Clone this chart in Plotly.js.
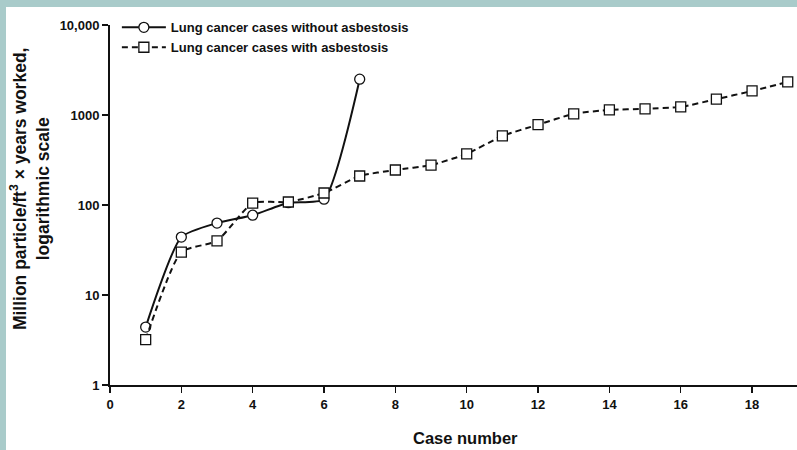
<!DOCTYPE html>
<html>
<head>
<meta charset="utf-8">
<script src="https://cdn.plot.ly/plotly-3.0.1.min.js"></script>
<style>
  html, body { margin: 0; padding: 0; width: 797px; height: 450px; overflow: hidden; background: #a9cbca; }
  #chart { position: absolute; left: 6px; top: 7px; width: 791px; height: 443px; background: #ffffff; }
</style>
</head>
<body>
<div id="chart"></div>
<script>
const caseWithout = [1, 2, 3, 4, 5, 6, 7];
const exposureWithout = [4.4, 44, 63, 77, 106, 116, 2500];
const caseWith = [1, 2, 3, 4, 5, 6, 7, 8, 9, 10, 11, 12, 13, 14, 15, 16, 17, 18, 19];
const exposureWith = [3.2, 30, 40, 105, 108, 136, 210, 245, 278, 370, 585, 780, 1030, 1140, 1170, 1230, 1500, 1850, 2330];
const yTickVals = [1, 10, 100, 1000, 10000];
const yTickText = ["1", "10", "100", "1000", "10,000"];
const nameWithout = "Lung cancer cases without asbestosis";
const nameWith = "Lung cancer cases with asbestosis";

const FONT = "'Liberation Sans Narrow', 'Arial Narrow', 'Liberation Sans', sans-serif";

const traces = [
  {
    x: caseWithout, y: exposureWithout, name: nameWithout,
    type: "scatter", mode: "lines+markers", cliponaxis: false,
    line: { color: "#111", width: 2, shape: "spline", smoothing: 0.55 },
    marker: { symbol: "circle", size: 10, color: "#fff", line: { color: "#111", width: 1.3 } }
  },
  {
    x: caseWith, y: exposureWith, name: nameWith,
    type: "scatter", mode: "lines+markers", cliponaxis: false,
    line: { color: "#111", width: 2, dash: "6px,4px", shape: "spline", smoothing: 0.55 },
    marker: { symbol: "square", size: 10, color: "#fff", line: { color: "#111", width: 1.3 } }
  }
];

const layout = {
  width: 791, height: 443,
  margin: { l: 104, r: 0, t: 18, b: 65 },
  paper_bgcolor: "#ffffff", plot_bgcolor: "#ffffff",
  font: { family: FONT, color: "#111", size: 13, weight: "bold" },
  showlegend: true,
  legend: {
    x: 0.01, y: 1.035, xanchor: "left", yanchor: "top",
    bgcolor: "rgba(0,0,0,0)", font: { family: FONT, size: 13, weight: "bold", color: "#111" },
    tracegroupgap: 0, itemwidth: 44
  },
  xaxis: {
    range: [0, 19.26], tickmode: "linear", tick0: 0, dtick: 2,
    showgrid: false, zeroline: false, showline: true, linecolor: "#111", linewidth: 2,
    ticks: "outside", ticklen: 6, tickwidth: 1.5, tickcolor: "#111",
    tickfont: { family: FONT, size: 13, weight: "bold", color: "#111" }
  },
  yaxis: {
    type: "log", range: [0, 4], tickmode: "array", tickvals: yTickVals, ticktext: yTickText,
    showgrid: false, zeroline: false, showline: true, linecolor: "#111", linewidth: 2,
    ticks: "outside", ticklen: 6, tickwidth: 1.5, tickcolor: "#111",
    tickfont: { family: FONT, size: 13, weight: "bold", color: "#111" }
  },
  annotations: [
    {
      text: "Million particle/ft<sup>3</sup> × years worked,<br>logarithmic scale",
      xref: "paper", yref: "paper", x: -0.116, y: 0.545, xanchor: "center", yanchor: "middle",
      textangle: -90, showarrow: false,
      font: { family: FONT, size: 17.5, weight: "bold", color: "#111" }
    },
    {
      text: "Case number",
      xref: "paper", yref: "paper", x: 0.518, y: -0.147, xanchor: "center", yanchor: "middle",
      showarrow: false,
      font: { family: FONT, size: 16.5, weight: "bold", color: "#111" }
    }
  ]
};

Plotly.newPlot("chart", traces, layout, { displayModeBar: false, staticPlot: true });
</script>
</body>
</html>
